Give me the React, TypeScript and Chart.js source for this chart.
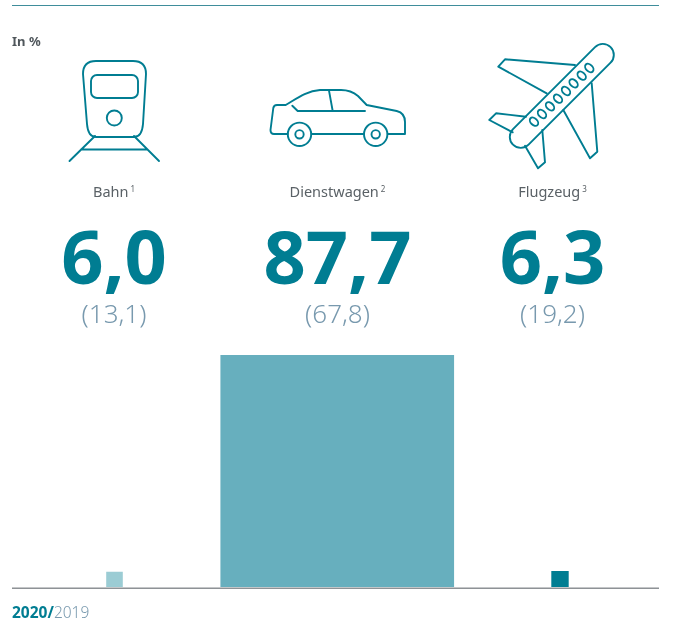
import React, { useEffect, useRef } from "react";
import { Chart, registerables } from "chart.js";

Chart.register(...registerables);

const categories = ["Bahn", "Dienstwagen", "Flugzeug"];
const footnotes = ["1", "2", "3"];
const values2020 = [6.0, 87.7, 6.3];
const values2019 = [13.1, 67.8, 19.2];
const yearCurrent = "2020";
const yearPrevious = "2019";
const unitLabel = "In %";

const TEAL = "#007d92";
const barColors = ["#9bccd4", "#67afbe", "#007d92"];
const GREY = "#5a6166";
const BLUEGREY = "#7899ae";
const FONT = "'Noto Sans', sans-serif";
const PX_PER_UNIT = 233 / 87.7;
const textCenters = [114, 337.5, 552.5];

const fmt = (v: number) => v.toFixed(1).replace(".", ",");

const baselinePlugin = {
  id: "baseline",
  afterDatasetsDraw(chart: any) {
    const { ctx } = chart;
    const y = chart.scales.y.getPixelForValue(0);
    ctx.save();
    ctx.fillStyle = "#c4c6c8";
    ctx.fillRect(12, y - 1, 647, 1);
    ctx.fillStyle = "#8e9296";
    ctx.fillRect(12, y, 647, 1);
    ctx.restore();
  },
};

function Icons() {
  const s = { fill: "none", stroke: TEAL, strokeWidth: 1.9, strokeLinejoin: "round" as const, strokeLinecap: "round" as const };
  const windows = [
    [589.3, 68], [581.7, 75.7], [573.6, 83.3], [566, 91], [558, 98.7], [550, 106.3], [542, 114], [534, 121.7],
  ];
  return (
    <svg width={673} height={621} style={{ position: "absolute", left: 0, top: 0 }}>
      <g {...s}>
        <path d="M96 61H133Q146 61 146 74L143 124Q142 137 134 137H96Q88 137 87 124L83 74Q83 61 96 61Z" />
        <rect x={91} y={75} width={47} height={23} rx={6} />
        <circle cx={114.3} cy={118} r={7.5} />
        <path d="M95 136L69.5 161M134 136L159 161M81 149.5H147" />
      </g>
      <g {...s}>
        <path d="M287.7 134H274Q270.5 134 270.5 130L273.3 108Q273.8 105 277 105H285.7C296 99 306 91 320 90H341Q351 90 358 96L366.7 105L396.7 111Q405 113 405 122V134H387.7M364 134H311.5" />
        <circle cx={299.5} cy={134.3} r={11.7} />
        <circle cx={299.5} cy={134.3} r={4.2} />
        <circle cx={375.7} cy={134.3} r={11.7} />
        <circle cx={375.7} cy={134.3} r={4.2} />
        <path d="M292.3 105.7L297.7 111H365M329 90.7L332.7 111" />
      </g>
      <g {...s}>
        <rect x={-69} y={-11} width={138} height={22} rx={11} transform="translate(561.8 95.9) rotate(-45)" />
        {windows.map(([x, y]) => (
          <ellipse key={x} cx={x} cy={y} rx={3.3} ry={4.9} transform={`rotate(-45 ${x} ${y})`} />
        ))}
        <path d="M575 65L505 59.3L498.3 66.7L546.7 93.3" />
        <path d="M526 116.7L496 113.3L489.3 120L512.7 132.3" />
        <path d="M591.7 83.3L597.3 151.7L590 158.3L563.3 110" />
        <path d="M542.3 130L545 162.3L538 168.3L525 145.7" />
      </g>
    </svg>
  );
}

export default function App() {
  const ref = useRef<HTMLCanvasElement>(null);
  useEffect(() => {
    const chart = new Chart(ref.current!, {
      type: "bar",
      data: {
        labels: categories,
        datasets: categories.map((c, i) => ({
          label: c,
          data: values2020.map((v, j) => (j === i ? v : null)),
          backgroundColor: barColors[i],
          barThickness: values2020[i] * PX_PER_UNIT,
          grouped: false,
        })),
      } as any,
      options: {
        responsive: false,
        animation: false,
        layout: { padding: { left: 3.125, right: 1.625, top: 355, bottom: 33 } },
        plugins: { legend: { display: false }, tooltip: { enabled: false } },
        scales: {
          x: { display: false },
          y: { display: false, min: 0, max: 87.7 },
        },
      } as any,
      plugins: [baselinePlugin],
    });
    return () => chart.destroy();
  }, []);

  const text = (style: React.CSSProperties) => ({
    position: "absolute" as const,
    fontFamily: FONT,
    whiteSpace: "nowrap" as const,
    lineHeight: 1,
    ...style,
  });

  return (
    <div style={{ position: "absolute", left: 0, top: 0, width: 673, height: 621, background: "#fff", overflow: "hidden" }}>
      <div style={{ position: "absolute", left: 12, top: 5, width: 647, height: 1, background: "#3f8d9b" }} />
      <canvas ref={ref} width={673} height={621} style={{ position: "absolute", left: 0, top: 0 }} />
      <Icons />
      <div style={text({ left: 12, top: 35, fontSize: 13, fontWeight: 700, color: "#50575c" })}>{unitLabel}</div>
      {categories.map((c, i) => (
        <React.Fragment key={c}>
          <div style={text({ left: textCenters[i] - 100, width: 200, textAlign: "center", top: 184, fontSize: 14.5, color: GREY })}>
            {c}
            <span style={{ fontSize: 8, verticalAlign: 5, marginLeft: 2 }}>{footnotes[i]}</span>
          </div>
          <div style={text({ left: textCenters[i] - 100, width: 200, textAlign: "center", top: 219, fontSize: 74, fontWeight: 700, color: TEAL })}>
            {fmt(values2020[i])}
          </div>
          <div style={text({ left: textCenters[i] - 100, width: 200, textAlign: "center", top: 300, fontSize: 26, fontWeight: 300, color: BLUEGREY })}>
            ({fmt(values2019[i])})
          </div>
        </React.Fragment>
      ))}
      <div style={text({ left: 12, top: 605, fontSize: 15.5 })}>
        <span style={{ fontWeight: 700, color: TEAL }}>{yearCurrent}/</span>
        <span style={{ fontWeight: 300, color: BLUEGREY }}>{yearPrevious}</span>
      </div>
    </div>
  );
}
